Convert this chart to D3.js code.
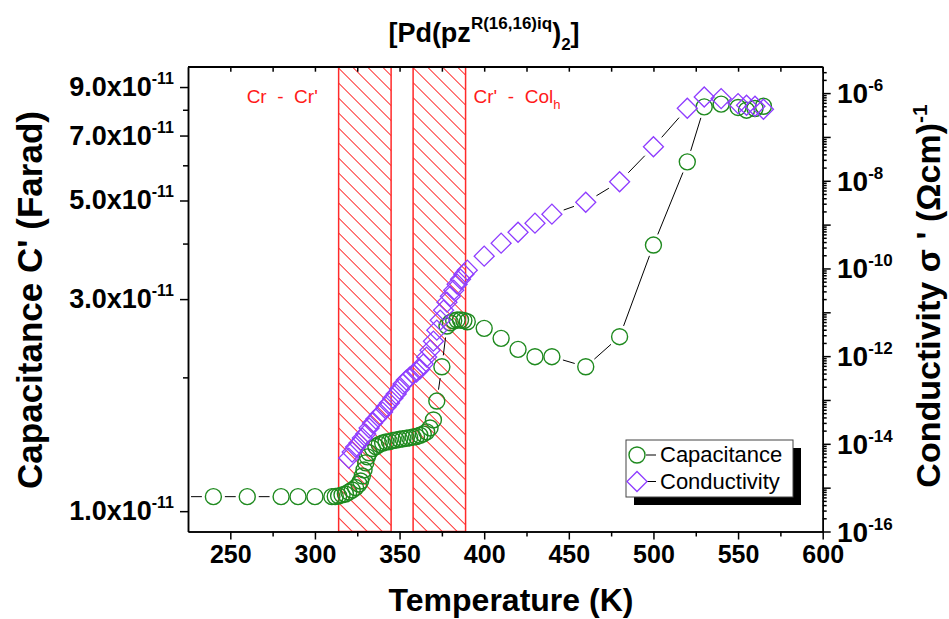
<!DOCTYPE html>
<head>
  <meta charset="utf-8" />
  <script src="https://d3js.org/d3.v7.min.js"></script>
  <style>
    body { margin: 0; background: #fff; }
    text { font-family: "Liberation Sans", Arial, sans-serif; }
    .axis path, .axis line { stroke: #000; stroke-width: 1.5; }
    .axis text { font-size: 25px; font-weight: bold; fill: #000; }
  </style>
</head>
<body>
<script>
// temperatures (K) and capacitance C' (F)
var tempCap = [220, 240, 260, 280, 290, 300, 310, 312, 314, 316, 318, 320, 322, 324, 326, 327, 328, 329, 330, 331, 332,
  334, 336, 338, 340, 342, 344, 346, 348, 350, 352, 354, 356, 358, 360, 362, 364, 366, 368, 370, 372, 375, 378,
  380, 382, 384, 386, 388, 390, 400, 410, 420, 430, 440, 460, 480, 500, 520, 530, 540, 550, 555, 560, 565];
var capacitance = [1.078e-11, 1.078e-11, 1.078e-11, 1.078e-11, 1.078e-11, 1.078e-11, 1.078e-11, 1.079e-11, 1.082e-11,
  1.088e-11, 1.093e-11, 1.104e-11, 1.116e-11, 1.130e-11, 1.151e-11, 1.169e-11, 1.200e-11, 1.238e-11, 1.284e-11,
  1.325e-11, 1.353e-11, 1.383e-11, 1.398e-11, 1.413e-11, 1.423e-11, 1.431e-11, 1.434e-11, 1.442e-11, 1.446e-11,
  1.451e-11, 1.455e-11, 1.459e-11, 1.463e-11, 1.468e-11, 1.472e-11, 1.482e-11, 1.492e-11, 1.508e-11, 1.539e-11,
  1.604e-11, 1.769e-11, 2.113e-11, 2.609e-11, 2.654e-11, 2.682e-11, 2.692e-11, 2.692e-11, 2.685e-11, 2.668e-11,
  2.578e-11, 2.448e-11, 2.312e-11, 2.226e-11, 2.226e-11, 2.113e-11, 2.469e-11, 3.969e-11, 6.108e-11, 8.121e-11,
  8.236e-11, 8.096e-11, 7.982e-11, 8.054e-11, 8.148e-11];

// temperatures (K) and conductivity sigma' (ohm cm)^-1
var tempCond = [320, 322, 324, 326, 328, 330, 332, 334, 336, 338, 340, 342, 344, 346, 348, 350, 352, 354, 356, 358,
  360, 362, 364, 366, 368, 370, 372, 374, 376, 378, 380, 382, 384, 386, 388, 390, 400, 410, 420, 430, 440, 460,
  480, 500, 520, 530, 540, 550, 555, 560, 565];
var conductivity = [4.73e-15, 6.49e-15, 8.43e-15, 1.04e-14, 1.35e-14, 1.67e-14, 2.29e-14, 2.97e-14, 3.66e-14,
  4.53e-14, 5.30e-14, 6.89e-14, 8.49e-14, 1.10e-13, 1.36e-13, 1.77e-13, 2.30e-13, 2.84e-13, 3.33e-13, 3.89e-13,
  4.33e-13, 5.06e-13, 6.58e-13, 9.51e-13, 1.37e-12, 2.20e-12, 3.92e-12, 6.62e-12, 1.12e-11, 1.70e-11, 2.33e-11,
  3.20e-11, 4.39e-11, 5.70e-11, 7.41e-11, 9.14e-11, 1.91e-10, 3.77e-10, 6.71e-10, 1.08e-9, 1.73e-9, 3.24e-9,
  9.51e-9, 5.97e-8, 4.51e-7, 8.15e-7, 7.50e-7, 5.77e-7, 5.27e-7, 5.00e-7, 4.28e-7];

// transition bands (K)
var bands = [[314, 345], [358, 389]];
var bandLabels = ["Cr  -  Cr'", "Cr'  -  Col"];

var xTicks = [250, 300, 350, 400, 450, 500, 550, 600];
var xMinor = [275, 325, 375, 425, 475, 525, 575];
var capTicks = [1e-11, 3e-11, 5e-11, 7e-11, 9e-11];
var capTickText = ["1.0x10", "3.0x10", "5.0x10", "7.0x10", "9.0x10"];
var capMinor = [2e-11, 4e-11, 6e-11, 8e-11];
var condExps = [-16, -15, -14, -13, -12, -11, -10, -9, -8, -7, -6];
var condLabelExps = [-16, -14, -12, -10, -8, -6];

var width = 949, height = 619;
var pL = 188, pR = 822.7, pT = 66.7, pB = 531.5;

var svg = d3.select("body").append("svg").attr("width", width).attr("height", height);

var x = d3.scaleLinear().domain([225, 600]).range([pL, pR]);
var yC = d3.scaleLog().domain([9e-12, 1e-10]).range([pB, pT]);
var yS = d3.scaleLog().domain([1e-16, 4e-6]).range([pB, pT]);

var defs = svg.append("defs");
var pat = defs.append("pattern").attr("id", "hatch").attr("patternUnits", "userSpaceOnUse")
  .attr("width", 10.6).attr("height", 10.6).attr("patternTransform", "rotate(-45)");
pat.append("line").attr("x1", 0).attr("y1", 0).attr("x2", 0).attr("y2", 10.6)
  .attr("stroke", "#ff0000").attr("stroke-width", 1.6);
defs.append("clipPath").attr("id", "plot").append("rect")
  .attr("x", pL).attr("y", pT).attr("width", pR - pL).attr("height", pB - pT);

// hatched bands
svg.selectAll(".band").data(bands).join("rect").attr("class", "band")
  .attr("x", d => x(d[0])).attr("y", pT).attr("width", d => x(d[1]) - x(d[0])).attr("height", pB - pT)
  .attr("fill", "url(#hatch)").attr("stroke", "#ff2a2a").attr("stroke-width", 1.5);

var lbl = svg.selectAll(".blab").data(bands).join("text").attr("class", "blab")
  .attr("x", (d, i) => i == 0 ? x(d[0]) - 92 : x(d[1]) + 8).attr("y", 103)
  .attr("fill", "#ff1a1a").style("font-size", "19px").style("white-space", "pre");
lbl.append("tspan").text((d, i) => bandLabels[i]);
lbl.filter((d, i) => i == 1).append("tspan").attr("dy", 6).style("font-size", "13px").text("h");

// line with gaps around symbols
function gapLines(g, pts, gap) {
  var segs = [];
  for (var i = 1; i < pts.length; i++) {
    var a = pts[i - 1], b = pts[i];
    var dx = b[0] - a[0], dy = b[1] - a[1], d = Math.sqrt(dx * dx + dy * dy);
    if (d > 2 * gap + 1) {
      var ux = dx / d, uy = dy / d;
      segs.push([a[0] + ux * gap, a[1] + uy * gap, b[0] - ux * gap, b[1] - uy * gap]);
    }
  }
  g.selectAll("line").data(segs).join("line")
    .attr("x1", d => d[0]).attr("y1", d => d[1]).attr("x2", d => d[2]).attr("y2", d => d[3])
    .attr("stroke", "#000").attr("stroke-width", 1);
}

var plot = svg.append("g").attr("clip-path", "url(#plot)");
var capPts = tempCap.map((t, i) => [x(t), yC(capacitance[i])]);
var condPts = tempCond.map((t, i) => [x(t), yS(conductivity[i])]);

gapLines(plot.append("g"), capPts, 11.5);
gapLines(plot.append("g"), condPts, 12.5);

var green = "#1f8a1f", violet = "#8f3dff";
plot.append("g").selectAll("circle").data(capPts).join("circle")
  .attr("cx", d => d[0]).attr("cy", d => d[1]).attr("r", 8)
  .attr("fill", "none").attr("stroke", green).attr("stroke-width", 1.4);

var diamond = d3.symbol().type(d3.symbolSquare).size(200);
plot.append("g").selectAll("path").data(condPts).join("path")
  .attr("d", diamond).attr("transform", d => "translate(" + d[0] + "," + d[1] + ") rotate(45)")
  .attr("fill", "none").attr("stroke", violet).attr("stroke-width", 1.3);

// axes
svg.append("g").attr("class", "axis").attr("transform", "translate(0," + pB + ")")
  .call(d3.axisBottom(x).tickValues(xTicks).tickSize(8).tickSizeOuter(0).tickPadding(6).tickFormat(d3.format("d")));
svg.append("g").attr("class", "axis").attr("transform", "translate(0," + pB + ")")
  .call(d3.axisBottom(x).tickValues(xMinor).tickSize(5).tickSizeOuter(0).tickFormat(""));
svg.append("g").attr("class", "axis").attr("transform", "translate(0," + pT + ")")
  .call(d3.axisTop(x).tickValues(xTicks.concat(xMinor)).tickSize(-5).tickSizeOuter(0).tickFormat(""));

svg.append("g").attr("class", "axis").attr("transform", "translate(" + pL + ",0)")
  .call(d3.axisLeft(yC).tickValues(capTicks).tickSize(8).tickSizeOuter(0).tickFormat(""));
svg.append("g").attr("class", "axis").attr("transform", "translate(" + pL + ",0)")
  .call(d3.axisLeft(yC).tickValues(capMinor).tickSize(5).tickSizeOuter(0).tickFormat(""));

var capLab = svg.append("g").selectAll("text").data(capTicks).join("text")
  .attr("x", 174).attr("y", d => yC(d) + 9).attr("text-anchor", "end")
  .style("font-size", "27px").style("font-weight", "bold");
capLab.append("tspan").text((d, i) => capTickText[i]);
capLab.append("tspan").attr("dy", -12).style("font-size", "16px").text("-11");

var condMinor = [];
condExps.forEach(function (e) {
  for (var m = 2; m <= 9; m++) {
    var v = m * Math.pow(10, e);
    if (v < 4e-6) condMinor.push(v);
  }
});
svg.append("g").attr("class", "axis").attr("transform", "translate(" + pR + ",0)")
  .call(d3.axisRight(yS).tickValues(condExps.map(e => Math.pow(10, e))).tickSize(8).tickSizeOuter(0).tickFormat(""));
svg.append("g").attr("class", "axis").attr("transform", "translate(" + pR + ",0)")
  .call(d3.axisRight(yS).tickValues(condMinor).tickSize(4).tickSizeOuter(0).tickFormat(""));

var condLab = svg.append("g").selectAll("text").data(condLabelExps).join("text")
  .attr("x", 837).attr("y", d => yS(Math.pow(10, d)) + 10)
  .style("font-size", "28px").style("font-weight", "bold");
condLab.append("tspan").text("10");
condLab.append("tspan").attr("dy", -12).style("font-size", "17px").text(d => "-" + Math.abs(d));

// frame top line
svg.append("line").attr("x1", pL).attr("x2", pR).attr("y1", pT).attr("y2", pT)
  .attr("stroke", "#000").attr("stroke-width", 1.5);

// titles
var t = svg.append("text").attr("x", 484).attr("y", 42).attr("text-anchor", "middle")
  .style("font-size", "27px").style("font-weight", "bold");
t.append("tspan").text("[Pd(pz");
t.append("tspan").attr("dy", -13).style("font-size", "17px").text("R(16,16)iq");
t.append("tspan").attr("dy", 13).text(")");
t.append("tspan").attr("dy", 8).style("font-size", "17px").text("2");
t.append("tspan").attr("dy", -8).text("]");

svg.append("text").attr("x", 511).attr("y", 611).attr("text-anchor", "middle")
  .style("font-size", "32px").style("font-weight", "bold").text("Temperature (K)");

svg.append("text").attr("transform", "translate(42,300) rotate(-90)").attr("text-anchor", "middle")
  .style("font-size", "35px").style("font-weight", "bold").text("Capacitance C' (Farad)");

var rt = svg.append("text").attr("transform", "translate(940,296) rotate(-90)").attr("text-anchor", "middle")
  .style("font-size", "34px").style("font-weight", "bold");
rt.append("tspan").text("Conductivity \u03c3 ' (\u03a9cm)");
rt.append("tspan").attr("dy", -13).style("font-size", "21px").text("-1");

// legend
var lg = svg.append("g");
lg.append("rect").attr("x", 634).attr("y", 448).attr("width", 167).attr("height", 57).attr("fill", "#000");
lg.append("rect").attr("x", 626).attr("y", 440).attr("width", 167).attr("height", 57)
  .attr("fill", "#fff").attr("stroke", "#444").attr("stroke-width", 1);
var items = [{ name: "Capacitance", type: "c" }, { name: "Conductivity", type: "d" }];
var li = lg.selectAll(".li").data(items).join("g").attr("class", "li")
  .attr("transform", (d, i) => "translate(637," + (455 + i * 26.5) + ")");
li.append("line").attr("x1", 9).attr("x2", 19).attr("stroke", "#000");
li.filter(d => d.type == "c").append("circle").attr("r", 8).attr("fill", "none")
  .attr("stroke", green).attr("stroke-width", 1.4);
li.filter(d => d.type == "d").append("path").attr("d", diamond).attr("transform", "rotate(45)")
  .attr("fill", "none").attr("stroke", violet).attr("stroke-width", 1.3);
li.append("text").attr("x", 23).attr("y", 7).style("font-size", "22px").text(d => d.name);
</script>
</body>
